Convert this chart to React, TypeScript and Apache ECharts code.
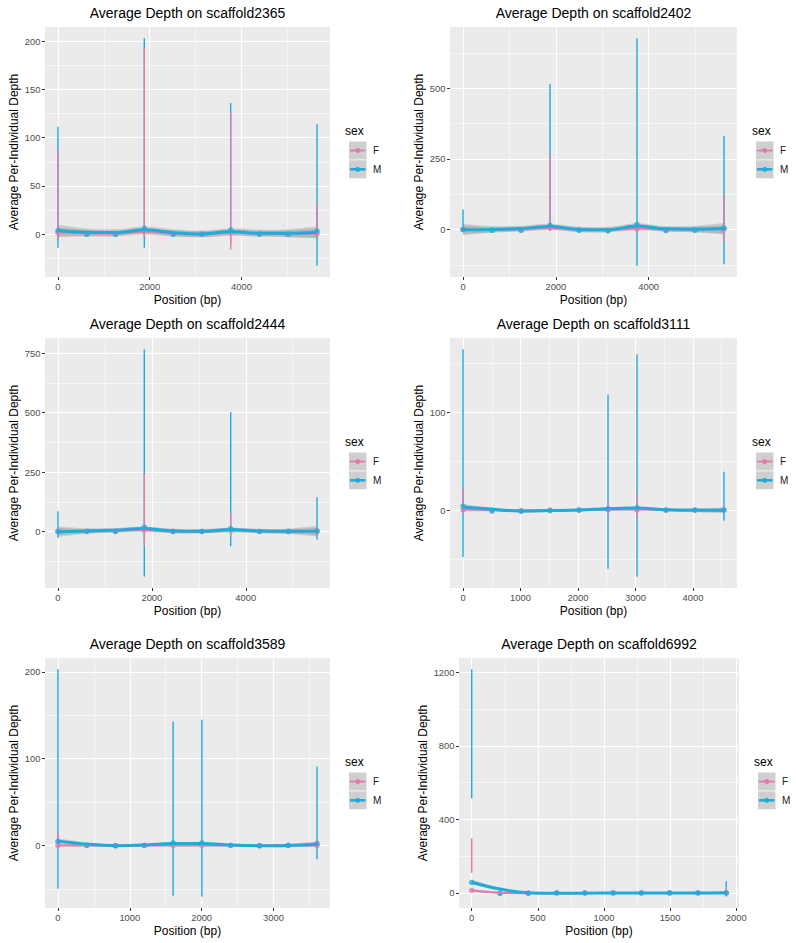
import React, { useEffect, useRef } from "react";
import * as echarts from "echarts";

const FONT = '"Liberation Sans", Arial, Helvetica, sans-serif';
const PINK = "#E27BAA";
const BLUE = "#22AADB";
const RIBBON = "rgba(153,153,153,0.4)";
const KEY_BG = "#CFCFCF";
const SMOOTH = 0.35;

// ---------- DATA ----------
const PANEL_NAMES = ["scaffold2365", "scaffold2402", "scaffold2444", "scaffold3111", "scaffold3589", "scaffold6992"];
const SEX_LEVELS = ["F", "M"];

// scaffold2365
const pos2365 = [0, 628, 1255, 1883, 2511, 3138, 3766, 4394, 5021, 5649];
const mMean2365 = [3.8, 0, 0, 6, 0, 0, 4.5, 0, 0, 3.4];
const fMean2365 = [1.5, 0, 0, 3, 0, 0, 2, 0.5, 0, 0.5];
const mLo2365 = [-14, -2, -2, -14, -2, -2, -10, -2, -2, -32.6];
const mHi2365 = [111.5, 2, 2, 203, 2, 2, 136, 2, 2, 114];
const fLo2365 = [-5, -1, -1, -3, -1, -1, -16, -1, -1, -4];
const fHi2365 = [88, 1, 1, 193, 1, 1, 126, 2, 1, 32];
const mFit2365 = [3.8, 2, 1.7, 4.5, 1.7, 0.3, 2.7, 1, 1, 2];
const fFit2365 = [2, 1, 0.8, 2.5, 0.7, 0, 1.5, 0.5, 0.4, 0.8];
const mSe2365 = [6, 4, 3.5, 3.5, 3.5, 3.5, 3.5, 3.5, 4, 6];
const fSe2365 = [5, 3.5, 3, 3, 3, 3, 3, 3, 3.5, 5];
const xBreaks2365 = [0, 2000, 4000];
const yBreaks2365 = [0, 50, 100, 150, 200];

// scaffold2402
const pos2402 = [0, 625, 1250, 1874, 2499, 3124, 3749, 4373, 4998, 5623];
const mMean2402 = [1, -2, -2, 15, -2, -4, 19, -3, -2, 6];
const fMean2402 = [0, -1, -1, 6, -1, -2, 3, -1, -1, 2];
const mLo2402 = [-5, -4, -4, -5, -4, -6, -127, -5, -4, -122];
const mHi2402 = [71, 2, 2, 515, 2, 2, 676, 2, 2, 331];
const fLo2402 = [-4, -3, -3, 2, -3, -4, -6, -3, -3, -44];
const fHi2402 = [8, 1, 1, 270, 1, 1, 12, 1, 1, 122];
const mFit2402 = [0, 1, 4, 11, 1, 0, 13, 3, 2, 4];
const fFit2402 = [0, 0, 2, 6, 0, -1, 4, 1, 1, 1];
const mSe2402 = [20, 12, 10, 10, 10, 10, 10, 10, 12, 20];
const fSe2402 = [15, 9, 7, 7, 7, 7, 7, 7, 9, 15];
const xBreaks2402 = [0, 2000, 4000];
const yBreaks2402 = [0, 250, 500];

// scaffold2444
const pos2444 = [0, 613, 1226, 1839, 2452, 3066, 3679, 4292, 4905, 5518];
const mMean2444 = [0, 0, 0, 18, 0, 0, 12, 0, 0, 2];
const fMean2444 = [0, 0, 0, 6, 0, 0, 4, 0, 0, 0];
const mLo2444 = [-27, -4, -4, -190, -4, -4, -62, -4, -4, -34];
const mHi2444 = [85, 4, 4, 766, 4, 4, 502, 4, 4, 144];
const fLo2444 = [-6, -3, -3, -60, -3, -3, -25, -3, -3, -6];
const fHi2444 = [8, 3, 3, 242, 3, 3, 78, 3, 3, 8];
const mFit2444 = [-1, 2, 6, 12, 2, 1, 8, 2, 1, 1];
const fFit2444 = [-1, 1, 3, 6, 0, 0, 4, 1, 0, 0];
const mSe2444 = [22, 12, 9, 9, 9, 9, 9, 9, 12, 22];
const fSe2444 = [16, 9, 7, 7, 7, 7, 7, 7, 9, 16];
const xBreaks2444 = [0, 2000, 4000];
const yBreaks2444 = [0, 250, 500, 750];

// scaffold3111
const pos3111 = [0, 504, 1009, 1513, 2017, 2522, 3026, 3530, 4035, 4539];
const mMean3111 = [4, -1, -1, -0.5, 0, 1.5, 2.5, 0, 0, 0];
const fMean3111 = [0, 0, -1, 0, 0, 0, 0, 0, 0, 0];
const mLo3111 = [-48, -2, -3, -2, -2, -60, -68, -2, -2, -11];
const mHi3111 = [164, 1, 1, 1, 2, 118, 159, 2, 2, 39];
const fLo3111 = [-3, -1, -2, -1, -1, -3, -9, -1, -1, -2];
const fHi3111 = [22, 1, 0, 1, 1, 8, 17, 1, 1, 2];
const mFit3111 = [3, 0.7, -1, -0.5, 0, 1.4, 2, 0.3, -0.3, -0.3];
const fFit3111 = [0.5, 0, -0.5, -0.3, 0, 0.3, 0.5, 0.2, 0, 0];
const mSe3111 = [3, 2, 1.5, 1.5, 1.5, 1.5, 1.5, 1.5, 2, 3];
const fSe3111 = [2, 1.3, 1, 1, 1, 1, 1, 1, 1.3, 2];
const xBreaks3111 = [0, 1000, 2000, 3000, 4000];
const yBreaks3111 = [0, 100];

// scaffold3589
const pos3589 = [0, 401, 801, 1202, 1603, 2003, 2404, 2805, 3205, 3606];
const mMean3589 = [4.6, 0, -0.5, 0, 3, 3, 0, -0.5, 0, 2.3];
const fMean3589 = [0, 0, 0, 0, 0, 0, 0, 0, 0, 0];
const mLo3589 = [-50, -2, -2, -2, -58, -59, -2, -2, -2, -16];
const mHi3589 = [203, 2, 1, 2, 143, 145, 2, 1, 2, 91];
const fLo3589 = [-3, -1, -1, -1, -1, -1, -1, -1, -1, -1];
const fHi3589 = [15, 1, 1, 1, 2, 2, 1, 1, 1, 2];
const mFit3589 = [5, 1.5, -0.3, 0.4, 2.3, 2.3, 0.4, -0.4, 0, 1.5];
const fFit3589 = [0.3, 0, 0, 0, 0, 0, 0, 0, 0, 0.1];
const mSe3589 = [3, 2, 1.5, 1.5, 1.5, 1.5, 1.5, 1.5, 2, 3];
const fSe3589 = [1.5, 1, 0.8, 0.8, 0.8, 0.8, 0.8, 0.8, 1, 1.5];
const xBreaks3589 = [0, 1000, 2000, 3000];
const yBreaks3589 = [0, 100, 200];

// scaffold6992
const pos6992 = [0, 214, 428, 642, 855, 1069, 1283, 1497, 1711, 1925];
const mMean6992 = [57, -2, -2, 0, 0, 0, 0, 0, 0, 0];
const fMean6992 = [14, -1, 0, 0, 0, 0, 0, 0, 0, 0];
const mLo6992 = [514, -4, -4, -2, -2, -2, -2, -2, -2, -2];
const mHi6992 = [1216, 2, 2, 2, 2, 2, 2, 2, 2, 63];
const fLo6992 = [108, -3, -2, -1, -1, -1, -1, -1, -1, -20];
const fHi6992 = [298, 1, 1, 1, 1, 1, 1, 1, 1, 25];
const mFit6992 = [58, 21, 1, -2, -1, 0, 0, 0, 0, 1];
const fFit6992 = [14, 1, -1, 0, 0, 0, 0, 0, 0, 0];
const mSe6992 = [14, 8, 5, 4, 4, 4, 4, 4, 5, 8];
const fSe6992 = [8, 5, 3, 3, 3, 3, 3, 3, 3, 5];
const xBreaks6992 = [0, 500, 1000, 1500, 2000];
const yBreaks6992 = [0, 400, 800, 1200];

const PANELS = [
  { name: PANEL_NAMES[0], pos: pos2365, mMean: mMean2365, fMean: fMean2365, mLo: mLo2365, mHi: mHi2365, fLo: fLo2365, fHi: fHi2365, mFit: mFit2365, fFit: fFit2365, mSe: mSe2365, fSe: fSe2365, xBreaks: xBreaks2365, yBreaks: yBreaks2365 },
  { name: PANEL_NAMES[1], pos: pos2402, mMean: mMean2402, fMean: fMean2402, mLo: mLo2402, mHi: mHi2402, fLo: fLo2402, fHi: fHi2402, mFit: mFit2402, fFit: fFit2402, mSe: mSe2402, fSe: fSe2402, xBreaks: xBreaks2402, yBreaks: yBreaks2402 },
  { name: PANEL_NAMES[2], pos: pos2444, mMean: mMean2444, fMean: fMean2444, mLo: mLo2444, mHi: mHi2444, fLo: fLo2444, fHi: fHi2444, mFit: mFit2444, fFit: fFit2444, mSe: mSe2444, fSe: fSe2444, xBreaks: xBreaks2444, yBreaks: yBreaks2444 },
  { name: PANEL_NAMES[3], pos: pos3111, mMean: mMean3111, fMean: fMean3111, mLo: mLo3111, mHi: mHi3111, fLo: fLo3111, fHi: fHi3111, mFit: mFit3111, fFit: fFit3111, mSe: mSe3111, fSe: fSe3111, xBreaks: xBreaks3111, yBreaks: yBreaks3111 },
  { name: PANEL_NAMES[4], pos: pos3589, mMean: mMean3589, fMean: fMean3589, mLo: mLo3589, mHi: mHi3589, fLo: fLo3589, fHi: fHi3589, mFit: mFit3589, fFit: fFit3589, mSe: mSe3589, fSe: fSe3589, xBreaks: xBreaks3589, yBreaks: yBreaks3589 },
  { name: PANEL_NAMES[5], pos: pos6992, mMean: mMean6992, fMean: fMean6992, mLo: mLo6992, mHi: mHi6992, fLo: fLo6992, fHi: fHi6992, mFit: mFit6992, fFit: fFit6992, mSe: mSe6992, fSe: fSe6992, xBreaks: xBreaks6992, yBreaks: yBreaks6992 },
];

// ---------- LAYOUT ----------
const BOXES = [
  { left: 45, top: 27, right: 330, bottom: 277, yNameGap: 25 },
  { left: 450, top: 27, right: 737, bottom: 277, yNameGap: 25 },
  { left: 45, top: 338, right: 330, bottom: 588, yNameGap: 25 },
  { left: 450, top: 338, right: 737, bottom: 588, yNameGap: 25 },
  { left: 45, top: 658, right: 330, bottom: 908, yNameGap: 25 },
  { left: 459, top: 658, right: 739, bottom: 908, yNameGap: 30 },
];

function expand(lo: number, hi: number): [number, number] {
  const d = (hi - lo) * 0.05;
  return [lo - d, hi + d];
}

function minorBreaks(b: number[], lo: number, hi: number): number[] {
  const step = b[1] - b[0];
  const out: number[] = [];
  for (let k = -1; k < b.length; k++) {
    const v = b[0] + (k + 0.5) * step;
    if (v > lo && v < hi) out.push(v);
  }
  return out;
}

// smooth bezier path through pixel points (drawing only)
function smoothSegments(pts: number[][], s: number, moveFirst: boolean): string {
  const n = pts.length;
  let d = moveFirst ? `M${pts[0][0]},${pts[0][1]}` : `L${pts[0][0]},${pts[0][1]}`;
  const ctrl = pts.map((p, i) => {
    const prev = pts[Math.max(0, i - 1)];
    const next = pts[Math.min(n - 1, i + 1)];
    const vx = next[0] - prev[0];
    const vy = next[1] - prev[1];
    const dp = Math.hypot(p[0] - prev[0], p[1] - prev[1]);
    const dn = Math.hypot(next[0] - p[0], next[1] - p[1]);
    const sum = dp + dn || 1;
    return {
      inn: [p[0] - vx * s * (dp / sum), p[1] - vy * s * (dp / sum)],
      out: [p[0] + vx * s * (dn / sum), p[1] + vy * s * (dn / sum)],
    };
  });
  for (let i = 0; i < n - 1; i++) {
    const a = ctrl[i].out;
    const b = ctrl[i + 1].inn;
    const q = pts[i + 1];
    d += `C${a[0]},${a[1]} ${b[0]},${b[1]} ${q[0]},${q[1]}`;
  }
  return d;
}

function buildOption() {
  const grid: any[] = [];
  const xAxis: any[] = [];
  const yAxis: any[] = [];
  const series: any[] = [];
  const graphic: any[] = [];

  PANELS.forEach((p, i) => {
    const b = BOXES[i];
    grid.push({
      left: b.left, top: b.top, width: b.right - b.left, height: b.bottom - b.top,
      show: true, backgroundColor: "#EBEBEB", borderWidth: 0,
    });
    const [x0, x1] = expand(Math.min(...p.pos), Math.max(...p.pos));
    const ys: number[] = [
      ...p.mLo, ...p.mHi, ...p.fLo, ...p.fHi, ...p.mMean, ...p.fMean,
      ...p.mFit.map((v, k) => v - p.mSe[k]), ...p.mFit.map((v, k) => v + p.mSe[k]),
      ...p.fFit.map((v, k) => v - p.fSe[k]), ...p.fFit.map((v, k) => v + p.fSe[k]),
    ];
    const [y0, y1] = expand(Math.min(...ys), Math.max(...ys));

    const labelStyle = { fontSize: 9.4, color: "#4D4D4D", fontFamily: FONT, formatter: (v: number) => String(v) };
    const noLine = { show: false, onZero: false };
    xAxis.push({
      type: "value", gridIndex: i, min: x0, max: x1, position: "bottom",
      name: "Position (bp)", nameLocation: "middle", nameGap: 17,
      nameTextStyle: { fontSize: 12, color: "#000", fontFamily: FONT },
      axisLine: noLine,
      axisTick: { show: true, length: 3, customValues: p.xBreaks, lineStyle: { color: "#333", width: 1 } },
      axisLabel: { ...labelStyle, customValues: p.xBreaks, margin: 5 },
      splitLine: { show: true, lineStyle: { color: "#FFFFFF", width: 1.1 } },
    });
    xAxis.push({
      type: "value", gridIndex: i, min: x0, max: x1, position: "top",
      axisLine: noLine,
      axisTick: { show: false, customValues: minorBreaks(p.xBreaks, x0, x1) },
      axisLabel: { show: false },
      splitLine: { show: true, lineStyle: { color: "#FFFFFF", width: 0.55 } },
    });
    yAxis.push({
      type: "value", gridIndex: i, min: y0, max: y1, position: "left",
      name: "Average Per-Individual Depth", nameLocation: "middle", nameGap: b.yNameGap,
      nameTextStyle: { fontSize: 12, color: "#000", fontFamily: FONT },
      axisLine: noLine,
      axisTick: { show: true, length: 3, customValues: p.yBreaks, lineStyle: { color: "#333", width: 1 } },
      axisLabel: { ...labelStyle, customValues: p.yBreaks, margin: 4.5 },
      splitLine: { show: true, lineStyle: { color: "#FFFFFF", width: 1.1 } },
    });
    yAxis.push({
      type: "value", gridIndex: i, min: y0, max: y1, position: "right",
      axisLine: noLine,
      axisTick: { show: false, customValues: minorBreaks(p.yBreaks, y0, y1) },
      axisLabel: { show: false },
      splitLine: { show: true, lineStyle: { color: "#FFFFFF", width: 0.55 } },
    });

    const ax = { xAxisIndex: 2 * i, yAxisIndex: 2 * i };
    const errorBars = (lo: number[], hi: number[], color: string, nm: string) => ({
      type: "custom", name: nm, ...ax, silent: true,
      data: p.pos.map((x, k) => [x, lo[k], hi[k]]),
      encode: { x: 0, y: [1, 2] },
      renderItem: (_params: any, api: any) => {
        const a = api.coord([api.value(0), api.value(1)]);
        const c = api.coord([api.value(0), api.value(2)]);
        return { type: "line", shape: { x1: a[0], y1: a[1], x2: c[0], y2: c[1] }, style: { stroke: color, lineWidth: 1.4 } };
      },
    });
    const ribbon = (fit: number[], se: number[], nm: string) => ({
      type: "custom", name: nm + " se", ...ax, silent: true,
      data: p.pos.map((x, k) => [x, fit[k] - se[k], fit[k] + se[k]]),
      encode: { x: 0, y: [1, 2] },
      renderItem: (params: any, api: any) => {
        if (params.dataIndex !== 0) return null;
        const up = p.pos.map((x, k) => api.coord([x, fit[k] + se[k]]));
        const lo = p.pos.map((x, k) => api.coord([x, fit[k] - se[k]])).reverse();
        const d = smoothSegments(up, SMOOTH, true) + smoothSegments(lo, SMOOTH, false) + "Z";
        return { type: "path", shape: { pathData: d }, style: { fill: RIBBON, stroke: null } };
      },
    });
    const fitLine = (fit: number[], color: string, width: number, nm: string) => ({
      type: "line", name: nm, ...ax, silent: true, smooth: SMOOTH, symbol: "none",
      lineStyle: { color, width },
      data: p.pos.map((x, k) => [x, fit[k]]),
    });
    const points = (mean: number[], color: string, nm: string) => ({
      type: "scatter", name: nm, ...ax, silent: true, symbolSize: 5.5,
      itemStyle: { color },
      data: p.pos.map((x, k) => [x, mean[k]]),
    });

    series.push(errorBars(p.mLo, p.mHi, BLUE, "M"));
    series.push(errorBars(p.fLo, p.fHi, PINK, "F"));
    series.push(ribbon(p.fFit, p.fSe, "F"));
    series.push(ribbon(p.mFit, p.mSe, "M"));
    series.push(fitLine(p.fFit, PINK, 2, "F"));
    series.push(fitLine(p.mFit, BLUE, 3, "M"));
    series.push(points(p.fMean, PINK, "F"));
    series.push(points(p.mMean, BLUE, "M"));

    // title
    graphic.push({
      type: "text", x: (b.left + b.right) / 2, y: b.top - 14,
      style: { text: "Average Depth on " + p.name, font: `14px ${FONT}`, fill: "#000", textAlign: "center", textVerticalAlign: "middle" },
    });
    // legend
    const cy = (b.top + b.bottom) / 2;
    const lx = b.right + 15;
    graphic.push({
      type: "text", x: lx, y: cy - 21,
      style: { text: "sex", font: `12px ${FONT}`, fill: "#000", textAlign: "left", textVerticalAlign: "middle" },
    });
    SEX_LEVELS.forEach((lev, j) => {
      const ky = cy - 10.5 + j * 18.8;
      const kx = b.right + 19;
      const color = lev === "F" ? PINK : BLUE;
      graphic.push({ type: "rect", shape: { x: kx, y: ky, width: 17.5, height: 18 }, style: { fill: KEY_BG } });
      graphic.push({ type: "line", shape: { x1: kx + 1, y1: ky + 9, x2: kx + 16.5, y2: ky + 9 }, style: { stroke: color, lineWidth: lev === "F" ? 1.8 : 2.6 } });
      graphic.push({ type: "circle", shape: { cx: kx + 8.75, cy: ky + 9, r: 2.5 }, style: { fill: color } });
      graphic.push({
        type: "text", x: b.right + 43, y: ky + 9,
        style: { text: lev, font: `10px ${FONT}`, fill: "#1A1A1A", textAlign: "left", textVerticalAlign: "middle" },
      });
    });
  });

  return { animation: false, backgroundColor: "#FFFFFF", grid, xAxis, yAxis, series, graphic };
}

export default function App() {
  const ref = useRef<HTMLDivElement>(null);
  useEffect(() => {
    if (!ref.current) return;
    const chart = echarts.init(ref.current, undefined, { renderer: "svg" });
    chart.setOption(buildOption() as any);
    return () => chart.dispose();
  }, []);
  return <div ref={ref} style={{ position: "absolute", left: 0, top: 0, width: 796, height: 943 }} />;
}
